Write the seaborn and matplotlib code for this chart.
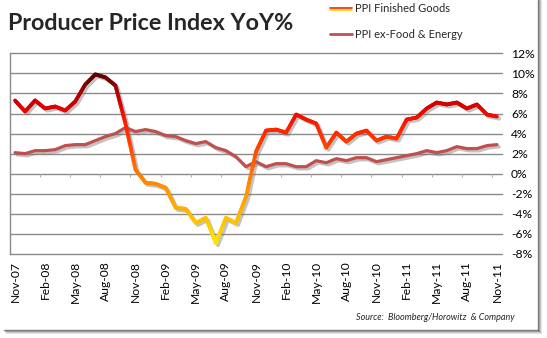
import numpy as np
import pandas as pd
import matplotlib
matplotlib.use("Agg")
import matplotlib.pyplot as plt
import matplotlib.patheffects as pe
import seaborn as sns
from matplotlib.collections import LineCollection
from matplotlib.colors import LinearSegmentedColormap, Normalize
from matplotlib.transforms import ScaledTranslation
from matplotlib.lines import Line2D

# Monthly YoY % change, Nov-2007 .. Nov-2011
months = pd.date_range("2007-11-01", "2011-11-01", freq="MS")
month_labels = [d.strftime("%b-%y") for d in months]

ppi_finished = [7.3, 6.2, 7.3, 6.5, 6.7, 6.3, 7.2, 8.9, 9.9, 9.6, 8.8, 5.0,
                0.4, -0.9, -1.0, -1.4, -3.4, -3.5, -4.9, -4.4, -6.9, -4.4, -4.9, -2.3,
                2.2, 4.3, 4.4, 4.1, 5.9, 5.4, 5.0, 2.6, 4.1, 3.2, 4.0, 4.3,
                3.3, 3.7, 3.5, 5.4, 5.6, 6.5, 7.1, 6.9, 7.1, 6.5, 6.9, 5.9, 5.7]

ppi_core = [2.1, 2.0, 2.3, 2.3, 2.4, 2.8, 2.9, 2.9, 3.3, 3.7, 4.0, 4.6,
            4.2, 4.4, 4.2, 3.8, 3.7, 3.3, 3.0, 3.2, 2.6, 2.3, 1.7, 0.7,
            1.2, 0.7, 1.0, 1.0, 0.7, 0.7, 1.3, 1.1, 1.5, 1.3, 1.6, 1.6,
            1.2, 1.4, 1.6, 1.8, 2.0, 2.3, 2.1, 2.3, 2.7, 2.5, 2.5, 2.8, 2.9]

y_ticks = [-8, -6, -4, -2, 0, 2, 4, 6, 8, 10, 12]
x_tick_step = 3

df = pd.DataFrame({"month": np.arange(len(months)),
                   "finished": ppi_finished,
                   "core": ppi_core})

sns.set_style("white")
plt.rcParams["font.family"] = ["Lato", "DejaVu Sans"]

W, H = 547, 338
fig = plt.figure(figsize=(W / 100, H / 100), dpi=100)
fig.patch.set_facecolor("white")


def fx(px):
    return px / W


def fy(py):
    return 1 - py / H


ax = fig.add_axes([fx(10), fy(254), fx(502) - fx(10), fy(53.3) - fy(254)])
ax.set_xlim(-0.5, len(months) - 0.5)
ax.set_ylim(-8, 12)

# horizontal gridlines
for v in y_ticks:
    ax.axhline(v, color="#8a8a8a", lw=1.0, zorder=0, clip_on=False)

for s in ["top", "right", "bottom"]:
    ax.spines[s].set_visible(False)
ax.spines["left"].set_color("#8a8a8a")
ax.spines["left"].set_linewidth(1.0)

# small category tick marks along the zero line
ax.vlines(np.arange(x_tick_step - 0.5, len(months) - 0.5, x_tick_step), -0.3, 0,
          color="#b0b0b0", lw=0.8, zorder=1)

shadow = ScaledTranslation(1.6 / 72, -1.6 / 72, fig.dpi_scale_trans)

# PPI ex-Food & Energy
sns.lineplot(data=df, x="month", y="core", ax=ax, color="#c0504d", lw=2.3,
             zorder=3,
             path_effects=[pe.SimpleLineShadow(offset=(1.6, -1.6),
                                               shadow_color="#7a7a7a", alpha=0.45),
                           pe.Normal()])

# PPI Finished Goods: shadow, then value-graded stroke
ax.plot(df["month"], df["finished"], color="#7a7a7a", alpha=0.45, lw=2.7,
        transform=ax.transData + shadow, zorder=4, solid_joinstyle="round")

grad = LinearSegmentedColormap.from_list("ppi", [
    (0.00, "#ffe600"),
    (0.12, "#ffc800"),
    (0.21, "#ffae00"),
    (0.35, "#ff8c00"),
    (0.44, "#ff7000"),
    (0.56, "#ff4800"),
    (0.68, "#ff2200"),
    (0.76, "#f00c00"),
    (0.82, "#d40000"),
    (0.91, "#a00000"),
    (1.00, "#5a0000"),
])
norm = Normalize(-7, 10)

xs = df["month"].to_numpy(float)
ys = df["finished"].to_numpy(float)
segs, vals = [], []
n_sub = 10
for i in range(len(xs) - 1):
    t = np.linspace(0, 1, n_sub + 1)
    px = xs[i] + (xs[i + 1] - xs[i]) * t
    py = ys[i] + (ys[i + 1] - ys[i]) * t
    for k in range(n_sub):
        segs.append([(px[k], py[k]), (px[k + 1], py[k + 1])])
        vals.append((py[k] + py[k + 1]) / 2)
lc = LineCollection(segs, colors=grad(norm(np.array(vals))), linewidths=2.7,
                    capstyle="round", joinstyle="round", zorder=5)
ax.add_collection(lc)

# axes ticks and labels
ax.set_xticks(range(0, len(months), x_tick_step))
ax.set_xticklabels(month_labels[::x_tick_step], rotation=90, fontsize=8.7)
ax.set_yticks(y_ticks)
ax.set_yticklabels([f"{v}%" for v in y_ticks], fontsize=8.7)
ax.yaxis.tick_right()
ax.tick_params(axis="y", length=0, pad=6.5, colors="black")
ax.tick_params(axis="x", length=0, pad=5, colors="black")
ax.set_xlabel("")
ax.set_ylabel("")

# title
fig.text(fx(8), fy(23), "Producer Price Index YoY%", fontsize=16.8,
         fontweight="bold", va="center", ha="left")

# legend
fig.add_artist(Line2D([fx(330), fx(352)], [fy(8.3)] * 2, color="#ff2000", lw=1.2))
fig.add_artist(Line2D([fx(330), fx(352)], [fy(10.3)] * 2, color="#ffd400", lw=1.2))
fig.add_artist(Line2D([fx(330), fx(352)], [fy(34)] * 2, color="#c0504d", lw=2.0))
fig.text(fx(355), fy(9), "PPI Finished Goods", fontsize=8, va="center", ha="left")
fig.text(fx(355), fy(34), "PPI ex-Food & Energy", fontsize=8, va="center", ha="left")

# source note
fig.text(fx(515), fy(318), "Source:  Bloomberg/Horowitz  & Company",
         fontsize=6.5, style="italic", va="center", ha="right")

# chart frame with soft drop shadow on right and bottom
for k, a in enumerate([0.75, 0.45, 0.25, 0.1]):
    fig.add_artist(Line2D([fx(4 + k), fx(538 + k)], [fy(330 + k)] * 2,
                          color="#555555", alpha=a, lw=1.0))
    fig.add_artist(Line2D([fx(538 + k)] * 2, [fy(0), fy(330 + k)],
                          color="#555555", alpha=a, lw=1.0))

fig.savefig("out.png", dpi=100, facecolor="white")
